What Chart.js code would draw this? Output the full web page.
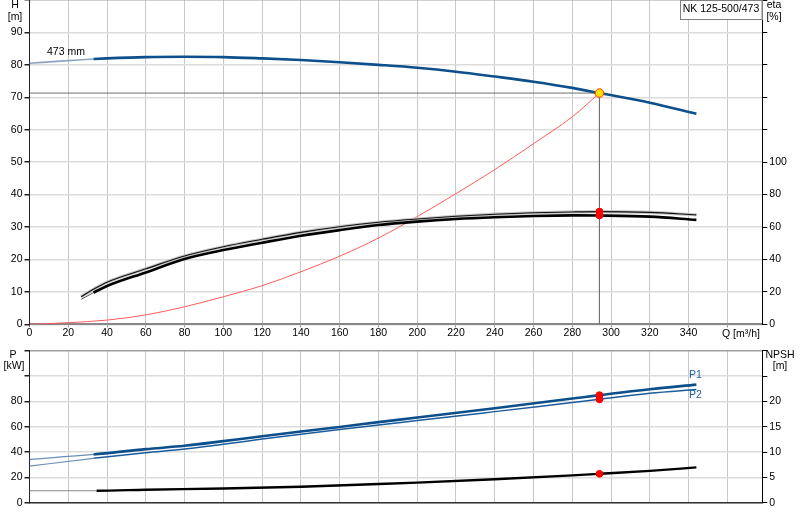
<!DOCTYPE html>
<html><head><meta charset="utf-8">
<script src="https://cdn.jsdelivr.net/npm/chart.js@4.4.1/dist/chart.umd.min.js"></script>
<style>
html,body{margin:0;padding:0;background:#fff;width:800px;height:520px;overflow:hidden;}
.wrap{position:absolute;left:0;width:800px;}
</style></head><body>
<div class="wrap" style="top:0;height:345px"><canvas id="c1"></canvas></div>
<div class="wrap" style="top:345px;height:175px"><canvas id="c2"></canvas></div>
<script>
// ---------- data ----------
const qHead = [0,20,33,40,60,80,100,120,140,160,180,200,220,240,260,280,294,320,344];
const head  = [80.5,81.3,81.8,82.0,82.4,82.5,82.4,82.0,81.5,80.8,80.0,79.1,77.9,76.4,74.8,72.9,71.3,68.3,64.9];

const qEta     = [26.6,33,40,60,80,100,120,140,160,180,200,220,240,260,280,294,320,344];
const etaUpper = [17.0,21.6,26.0,34.2,42.1,47.8,52.4,56.7,60.2,62.9,64.9,66.6,67.9,68.8,69.3,69.5,69.0,67.5];
const etaLower = [15.4,19.5,23.6,32.0,40.3,45.8,50.3,54.6,58.1,61.2,63.3,64.9,66.0,66.8,67.2,67.1,66.4,64.4];

const qSys  = [0,20,40,60,80,100,120,140,160,180,200,220,240,260,280,294];
const hSys  = [0,0.5,1.3,2.9,5.4,8.5,11.9,16.2,21.0,26.6,33.2,40.3,47.7,55.7,64.0,71.3];

const qPow = [0,33,60,80,100,120,140,160,180,200,240,280,294,320,344];
const p1   = [34.2,38.1,42.3,44.9,48.6,52.5,56.2,59.8,63.6,67.2,74.6,82.2,84.9,89.6,93.2];
const p2   = [28.9,35.0,39.4,42.3,46.2,50.2,54.1,57.8,61.4,64.8,71.9,79.1,81.6,86.4,89.3];

const qNpsh = [0,34.6,60,100,140,180,200,240,280,294,320,344];
const npsh  = [2.36,2.36,2.56,2.8,3.15,3.68,3.96,4.62,5.4,5.7,6.28,6.97];

const dutyQ = 294, dutyH = 71.3;
const dutyEta = [69.5, 67.1];
const dutyP = [84.9, 81.6];
const dutyNpsh = 5.7;

const qTickLabelsMax = 340;   // last numbered Q tick
const hTickLabelsMax = 90, etaTickLabelsMax = 100, pTickLabelsMax = 80, npshTickLabelsMax = 20;
const thinBelowQ = 33;        // curves are drawn thin below this flow

// ---------- helpers ----------
const pts = (xs, ys) => xs.map((x, i) => ({x, y: ys[i]}));
const BLUE = '#0d4f8b';
Chart.defaults.font.family = "'Liberation Sans', Arial, sans-serif";
Chart.defaults.font.size = 10.5;
Chart.defaults.color = '#000';

function seg(thinW, thinC) {
  return {
    borderWidth: c => c.p0.parsed.x < thinBelowQ ? thinW : undefined,
    borderColor: c => c.p0.parsed.x < thinBelowQ ? thinC : undefined
  };
}
function textPlugin(id, items, box) {
  return { id, afterDraw(chart) {
    const g = chart.ctx; g.save();
    if (box) {
      g.fillStyle = '#fff'; g.fillRect(box.x, box.y, box.w, box.h);
      g.strokeStyle = '#808080'; g.lineWidth = 1;
      g.strokeRect(box.x + 0.5, box.y + 0.5, box.w - 1, box.h - 1);
    }
    g.textBaseline = 'middle';
    for (const t of items) {
      g.font = (t.size || 10.5) + "px 'Liberation Sans', Arial, sans-serif";
      g.fillStyle = t.color || '#000';
      g.textAlign = t.align || 'center';
      g.fillText(t.text, t.x, t.y);
    }
    g.restore();
  }};
}
const fixAxis = (w, h) => s => {
  if (w !== null) s.width = w;
  if (h !== null) s.height = h;
  s.paddingTop = 0; s.paddingBottom = 0; s.paddingLeft = 0; s.paddingRight = 0;
};
const curve = (xs, ys, color, width, axis, extra) => Object.assign({
  data: pts(xs, ys), borderColor: color, borderWidth: width, pointRadius: 0,
  cubicInterpolationMode: 'monotone', yAxisID: axis }, extra || {});
const dots = (list, axis, fill, stroke, r) => ({
  data: list, showLine: false, pointRadius: r, pointBorderWidth: 1,
  pointBackgroundColor: fill, pointBorderColor: stroke, yAxisID: axis });
const hGridColor = top => c => (c.tick && c.tick.value === top) ? '#a0a0a0' : '#dcdcdc';

// ---------- top chart: H / eta ----------
new Chart(document.getElementById('c1'), {
  type: 'line',
  data: { datasets: [
    dots([{x: dutyQ, y: dutyH}], 'y', '#ffe000', '#ff3c00', 4.3),
    dots(dutyEta.map(v => ({x: dutyQ, y: v})), 'y2', '#ff0000', '#ff0000', 3.4),
    curve(qHead, head, BLUE, 2.6, 'y', { segment: seg(1.6, '#8aa4c4') }),
    curve(qEta, etaLower, '#000', 2.6, 'y2', { segment: seg(1, '#555') }),
    curve(qEta, etaUpper, '#111', 1.1, 'y2'),
    curve(qEta, etaUpper, '#c4c4c4', 3.2, 'y2'),
    curve(qSys, hSys, '#ff5c5c', 1, 'y'),
    { data: [{x: 0, y: dutyH}, {x: dutyQ, y: dutyH}, {x: dutyQ, y: 0}], borderColor: '#707070',
      borderWidth: 1, pointRadius: 0, tension: 0, yAxisID: 'y' }
  ]},
  options: {
    responsive: true, maintainAspectRatio: false, animation: false,
    layout: { padding: 0, autoPadding: false },
    plugins: { legend: { display: false }, tooltip: { enabled: false } },
    scales: {
      x: { type: 'linear', min: 0, max: 378,
        ticks: { stepSize: 20, includeBounds: false, autoSkip: false, maxRotation: 0, padding: 0,
          callback: v => v <= qTickLabelsMax ? v : '' },
        grid: { color: '#c8c8c8', lineWidth: 1, tickLength: 3, tickColor: '#888' },
        border: { color: '#888', width: 2 },
        afterFit: fixAxis(null, 20.7) },
      y: { position: 'left', min: 0, max: 100,
        ticks: { stepSize: 10, padding: 2, callback: v => v <= hTickLabelsMax ? v : '' },
        grid: { color: hGridColor(100), lineWidth: 1.5, tickLength: 5, tickColor: '#222' },
        border: { color: '#222', width: 1 },
        afterFit: fixAxis(29.5, null) },
      y2: { position: 'right', min: 0, max: 200,
        ticks: { stepSize: 20, padding: 2, callback: v => v <= etaTickLabelsMax ? v : '' },
        grid: { drawOnChartArea: false, tickLength: 5, tickColor: '#000' },
        border: { color: '#000', width: 1 },
        afterFit: fixAxis(37.7, null) }
    }
  },
  plugins: [textPlugin('t1', [
    {text: 'H', x: 15, y: 5.5}, {text: '[m]', x: 15, y: 17},
    {text: 'eta', x: 774, y: 5.5}, {text: '[%]', x: 774, y: 17},
    {text: 'NK 125-500/473', x: 721, y: 9},
    {text: '473 mm', x: 47, y: 52, align: 'left'},
    {text: 'Q [m³/h]', x: 722, y: 334, align: 'left'}
  ], {x: 680, y: 0, w: 82.5, h: 20})]
});

// ---------- bottom chart: P / NPSH ----------
new Chart(document.getElementById('c2'), {
  type: 'line',
  data: { datasets: [
    dots(dutyP.map(v => ({x: dutyQ, y: v})), 'y', '#ff0000', '#ff0000', 3.4),
    dots([{x: dutyQ, y: dutyNpsh}], 'y2', '#ff0000', '#ff0000', 3.4),
    curve(qPow, p1, BLUE, 2.6, 'y', { segment: seg(1.3, '#6a8fb8') }),
    curve(qPow, p2, '#1b5c9c', 1.5, 'y', { segment: seg(1.2, '#6a8fb8') }),
    curve(qNpsh, npsh, '#000', 2.4, 'y2', { segment: seg(1, '#8a8a8a') })
  ]},
  options: {
    responsive: true, maintainAspectRatio: false, animation: false,
    layout: { padding: { top: 5.7, left: 0, right: 0, bottom: 0 }, autoPadding: false },
    plugins: { legend: { display: false }, tooltip: { enabled: false } },
    scales: {
      x: { type: 'linear', min: 0, max: 378,
        ticks: { display: false, stepSize: 20, includeBounds: false, autoSkip: false },
        grid: { color: '#c8c8c8', lineWidth: 1, drawTicks: false },
        border: { color: '#333', width: 1.5 },
        afterFit: fixAxis(null, 17.3) },
      y: { position: 'left', min: 0, max: 120,
        ticks: { stepSize: 20, padding: 2, callback: v => v <= pTickLabelsMax ? v : '' },
        grid: { color: hGridColor(120), lineWidth: 1.5, tickLength: 5, tickColor: '#222' },
        border: { color: '#222', width: 1 },
        afterFit: fixAxis(29.5, null) },
      y2: { position: 'right', min: 0, max: 30,
        ticks: { stepSize: 5, padding: 2, callback: v => v <= npshTickLabelsMax ? v : '' },
        grid: { drawOnChartArea: false, tickLength: 5, tickColor: '#000' },
        border: { color: '#000', width: 1 },
        afterFit: fixAxis(37.7, null) }
    }
  },
  plugins: [textPlugin('t2', [
    {text: 'P', x: 13, y: 10}, {text: '[kW]', x: 14, y: 21.5},
    {text: 'NPSH', x: 780, y: 10}, {text: '[m]', x: 780, y: 21.5},
    {text: 'P1', x: 689, y: 30, align: 'left', color: '#1b5c9c'},
    {text: 'P2', x: 689, y: 50.5, align: 'left', color: '#1b5c9c'}
  ])]
});
</script>
</body></html>
